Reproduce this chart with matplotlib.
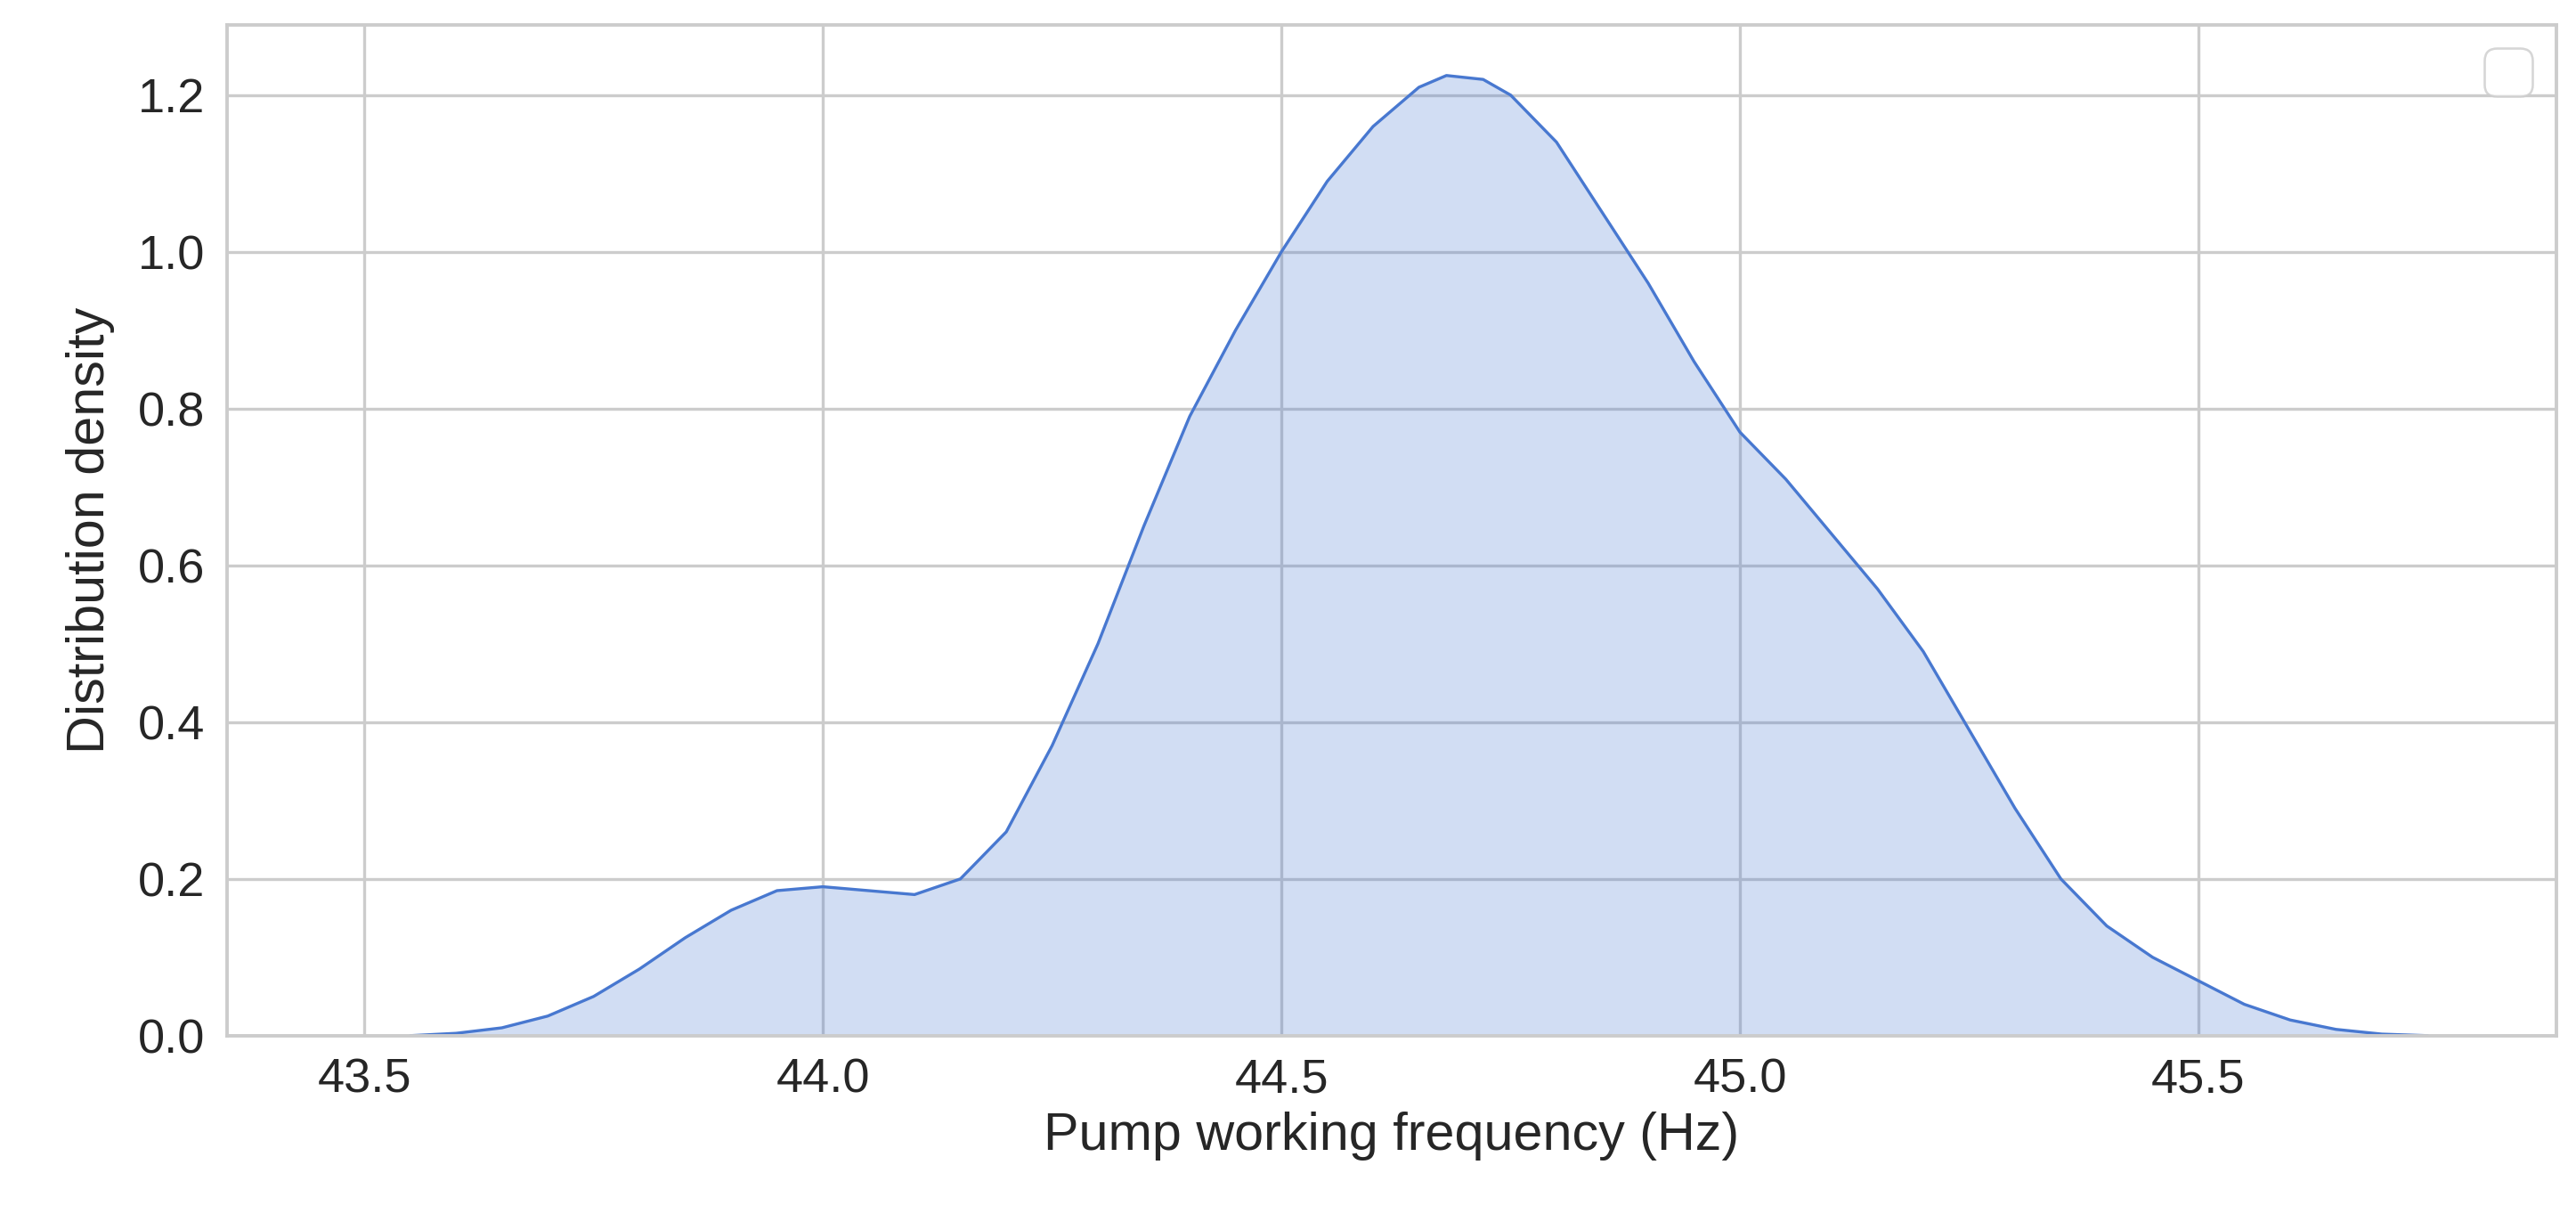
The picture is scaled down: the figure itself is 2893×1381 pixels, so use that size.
import matplotlib
matplotlib.use('Agg')
import matplotlib.pyplot as plt
import seaborn as sns

# density curve
freq = [43.55, 43.6, 43.65, 43.7, 43.75, 43.8, 43.85, 43.9, 43.95, 44.0, 44.05, 44.1,
        44.15, 44.2, 44.25, 44.3, 44.35, 44.4, 44.45, 44.5, 44.55, 44.6, 44.65, 44.68,
        44.72, 44.75, 44.8, 44.85, 44.9, 44.95, 45.0, 45.05, 45.1, 45.15, 45.2, 45.25,
        45.3, 45.35, 45.4, 45.45, 45.5, 45.55, 45.6, 45.65, 45.7, 45.75]
density = [0.0, 0.003, 0.01, 0.025, 0.05, 0.085, 0.125, 0.16, 0.185, 0.19, 0.185, 0.18,
           0.2, 0.26, 0.37, 0.5, 0.65, 0.79, 0.9, 1.0, 1.09, 1.16, 1.21, 1.225,
           1.22, 1.2, 1.14, 1.05, 0.96, 0.86, 0.77, 0.71, 0.64, 0.57, 0.49, 0.39,
           0.29, 0.2, 0.14, 0.1, 0.07, 0.04, 0.02, 0.008, 0.002, 0.0]
xticks = [43.5, 44.0, 44.5, 45.0, 45.5]
yticks = [0.0, 0.2, 0.4, 0.6, 0.8, 1.0, 1.2]

sns.set_theme(style='whitegrid')
plt.rcParams['font.family'] = ['Arial', 'Liberation Sans', 'DejaVu Sans']

fig = plt.figure(figsize=(15.6, 7.445), dpi=185.5)
ax = fig.add_axes([0.088, 0.158, 0.904, 0.822])
color = '#4878d0'
ax.fill_between(freq, density, color=color, alpha=0.25, linewidth=0)
ax.plot(freq, density, color=color, linewidth=1.3)

ax.set_xlim(43.35, 45.89)
ax.set_ylim(0, 1.29)
ax.set_xticks(xticks)
ax.set_yticks(yticks)
ax.tick_params(labelsize=21, colors='#262626')
ax.set_xlabel('Pump working frequency (Hz)', fontsize=23, color='#262626')
ax.set_ylabel('Distribution density', fontsize=23, color='#262626', labelpad=10)
for s in ax.spines.values():
    s.set_color('#cccccc')
    s.set_linewidth(1.5)
ax.grid(color='#cccccc', linewidth=1.3)
ax.legend(handles=[], loc='upper right', fontsize=26, handlelength=0.3,
          borderaxespad=0.4)

fig.savefig('out.png', dpi=185.5)
